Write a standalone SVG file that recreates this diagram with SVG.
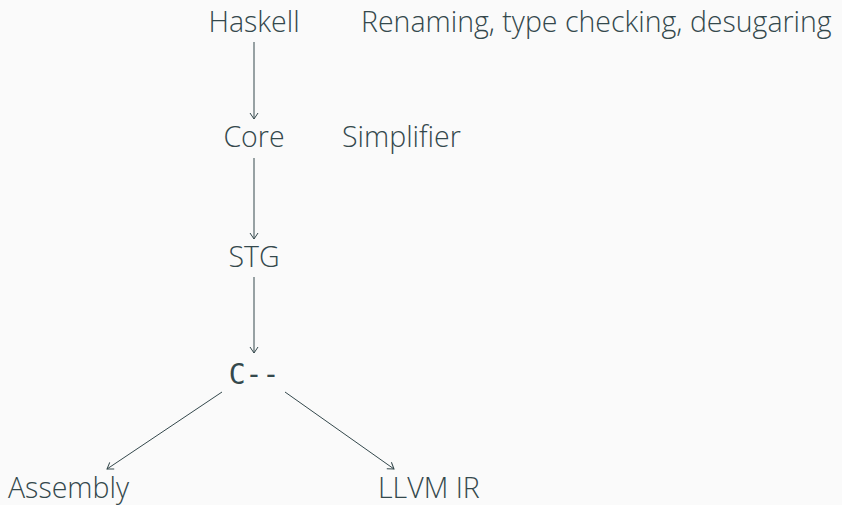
<svg xmlns="http://www.w3.org/2000/svg" width="842" height="505" viewBox="0 0 842 505">
<style>
text{font-family:"Open Sans","Noto Sans",sans-serif;font-weight:300;font-size:28.5px;fill:#34484c}
.m{font-family:"DejaVu Sans Mono","Liberation Mono",monospace;font-weight:400;font-size:28px}
.c line{stroke:#34484c;stroke-width:1}
</style>
<defs>
<marker id="a" viewBox="0 0 10 10" refX="8" refY="5" markerWidth="10" markerHeight="10" markerUnits="userSpaceOnUse" orient="auto">
<path d="M2,1 L8,5 L2,9" fill="none" stroke="#34484c" stroke-width="1"/>
</marker>
</defs>
<rect width="842" height="505" fill="#fafafa"/>
<g id="haskell"><text x="254" y="32" text-anchor="middle">Haskell</text></g>
<g id="renaming"><text x="361" y="32">Renaming, type checking, desugaring</text></g>
<g id="core"><text x="254" y="147" text-anchor="middle">Core</text></g>
<g id="simplifier"><text x="342" y="147">Simplifier</text></g>
<g id="stg"><text x="254" y="267" text-anchor="middle">STG</text></g>
<g id="cmm"><text class="m" x="254" y="384" text-anchor="middle">C--</text></g>
<g id="assembly"><text x="8" y="498">Assembly</text></g>
<g id="llvm"><text x="378" y="498">LLVM IR</text></g>
<g class="c" id="connectors">
<line x1="254" y1="42" x2="254" y2="119" marker-end="url(#a)"/>
<line x1="254" y1="158" x2="254" y2="239" marker-end="url(#a)"/>
<line x1="254" y1="277" x2="254" y2="353" marker-end="url(#a)"/>
<line x1="222" y1="392" x2="107" y2="469" marker-end="url(#a)"/>
<line x1="285" y1="392" x2="394" y2="469" marker-end="url(#a)"/>
</g>
</svg>
